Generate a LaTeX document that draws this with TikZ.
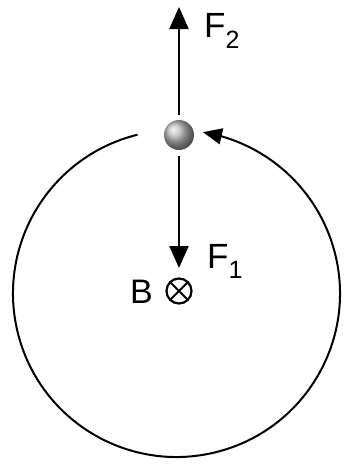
\documentclass[tikz,border=0pt]{standalone}
\usepackage{fontspec}
\setmainfont{Liberation Sans}
\usetikzlibrary{arrows.meta,calc,bending,shapes.geometric}
\begin{document}
\begin{tikzpicture}[x=1pt,y=1pt,
  force/.style={line width=2.4pt,-{Triangle[length=22pt,width=19pt]}},
  orbit/.style={line width=2pt,-{Triangle[length=19pt,width=16pt,flex]}},
  lbl/.style={inner sep=0pt,anchor=base west}]
\useasboundingbox (0,0) rectangle (345,-464);
\coordinate (C) at (176.5,-293.5);
\coordinate (arcstart) at ($(C)+(103.8:163.5)$);
\draw[orbit] (arcstart) arc[start angle=103.8,end angle=440.7,radius=163.5];
\node[circle,minimum size=30pt,inner sep=0pt,shading=ball,ball color=gray!55] (ball) at (179,-135) {};
\coordinate (f2tip) at (179,-7);
\coordinate (f1tip) at (179,-268);
\draw[force,shorten <=5pt] (ball.north) -- (f2tip);
\draw[force,shorten <=6pt] (ball.south) -- (f1tip);
\node[lbl] (F2) at (204,-37) {\fontsize{35}{35}\selectfont F\raisebox{-11pt}{\fontsize{25}{25}\selectfont 2}};
\node[lbl] (F1) at (207,-268) {\fontsize{35}{35}\selectfont F\raisebox{-10pt}{\fontsize{25}{25}\selectfont 1}};
\node[lbl] (Blab) at (130,-303) {\fontsize{34}{34}\selectfont B};
\node[circle,draw,line width=2.2pt,minimum size=25pt,inner sep=0pt] (B) at (179,-291) {};
\draw[line width=2pt] (B.north west) -- (B.south east) (B.north east) -- (B.south west);
\end{tikzpicture}
\end{document}
